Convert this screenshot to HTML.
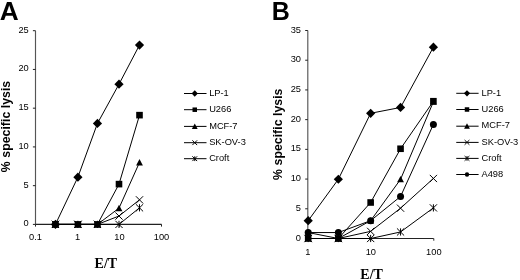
<!DOCTYPE html>
<html><head><meta charset="utf-8"><style>
html,body{margin:0;padding:0;background:#fff;width:520px;height:280px;overflow:hidden}
svg{display:block;will-change:transform}
text{fill:#000}
.s{font-family:"Liberation Sans",sans-serif;font-size:9.6px}
</style></head><body>
<svg width="520" height="280" viewBox="0 0 520 280">
<rect width="520" height="280" fill="#fff"/>
<text transform="translate(-0.3 20.3) scale(1.05 1)" font-family='"Liberation Sans", sans-serif' font-weight="bold" font-size="25">A</text>
<path d="M35.5 30.7V224.4" stroke="#555" stroke-width="1.15" fill="none"/>
<path d="M35.5 224.4H161.6" stroke="#222" stroke-width="1.1" fill="none"/>
<path d="M32.9 224.4H35.5" stroke="#222" stroke-width="1"/>
<text transform="translate(28.75 226.4) scale(0.97 1)" text-anchor="end" class="s">0</text>
<path d="M32.9 185.66H35.5" stroke="#222" stroke-width="1"/>
<text transform="translate(28.75 187.66) scale(0.97 1)" text-anchor="end" class="s">5</text>
<path d="M32.9 146.92H35.5" stroke="#222" stroke-width="1"/>
<text transform="translate(28.75 148.92) scale(0.97 1)" text-anchor="end" class="s">10</text>
<path d="M32.9 108.18H35.5" stroke="#222" stroke-width="1"/>
<text transform="translate(28.75 110.18) scale(0.97 1)" text-anchor="end" class="s">15</text>
<path d="M32.9 69.44H35.5" stroke="#222" stroke-width="1"/>
<text transform="translate(28.75 71.44) scale(0.97 1)" text-anchor="end" class="s">20</text>
<path d="M32.9 30.7H35.5" stroke="#222" stroke-width="1"/>
<text transform="translate(28.75 32.7) scale(0.97 1)" text-anchor="end" class="s">25</text>
<path d="M35.5 224.4V226.6" stroke="#222" stroke-width="1"/>
<text transform="translate(35.5 240.2) scale(0.97 1)" text-anchor="middle" class="s">0.1</text>
<path d="M77.5 224.4V226.6" stroke="#222" stroke-width="1"/>
<text transform="translate(77.5 240.2) scale(0.97 1)" text-anchor="middle" class="s">1</text>
<path d="M119.5 224.4V226.6" stroke="#222" stroke-width="1"/>
<text transform="translate(119.5 240.2) scale(0.97 1)" text-anchor="middle" class="s">10</text>
<path d="M161.5 224.4V226.6" stroke="#222" stroke-width="1"/>
<text transform="translate(161.5 240.2) scale(0.97 1)" text-anchor="middle" class="s">100</text>
<text transform="translate(9.9 126.45) rotate(-90)" text-anchor="middle" font-family='"Liberation Sans", sans-serif' font-weight="bold" font-size="12.3" letter-spacing="0.03">% specific lysis</text>
<text x="105.9" y="268" text-anchor="middle" font-family='"Liberation Serif", serif' font-weight="bold" font-size="14">E/T</text>
<polyline points="55.45,224.4 77.9,177.14 97.45,123.44 119,84.16 139.5,45.03" fill="none" stroke="#000" stroke-width="1"/>
<polyline points="55.45,224.4 77.9,224.4 97.45,224.4 119,184.11 139.5,115.15" fill="none" stroke="#000" stroke-width="1"/>
<polyline points="55.45,224.4 77.9,224.4 97.45,224.4 119,208.13 139.5,162.42" fill="none" stroke="#000" stroke-width="1"/>
<polyline points="55.45,224.4 77.9,224.4 97.45,224.4 119,216.03 139.5,199.84" fill="none" stroke="#000" stroke-width="1"/>
<polyline points="55.45,224.4 77.9,224.4 97.45,224.4 119,224.4 139.5,207.82" fill="none" stroke="#000" stroke-width="1"/>
<path d="M55.45 219.8L60.05 224.4L55.45 229L50.85 224.4Z" fill="#000"/>
<path d="M77.9 172.54L82.5 177.14L77.9 181.74L73.3 177.14Z" fill="#000"/>
<path d="M97.45 118.84L102.05 123.44L97.45 128.04L92.85 123.44Z" fill="#000"/>
<path d="M119 79.56L123.6 84.16L119 88.76L114.4 84.16Z" fill="#000"/>
<path d="M139.5 40.43L144.1 45.03L139.5 49.63L134.9 45.03Z" fill="#000"/>
<rect x="52.15" y="221.1" width="6.6" height="6.6" fill="#000"/>
<rect x="74.6" y="221.1" width="6.6" height="6.6" fill="#000"/>
<rect x="94.15" y="221.1" width="6.6" height="6.6" fill="#000"/>
<rect x="115.7" y="180.81" width="6.6" height="6.6" fill="#000"/>
<rect x="136.2" y="111.85" width="6.6" height="6.6" fill="#000"/>
<path d="M55.45 221L58.85 227.4L52.05 227.4Z" fill="#000"/>
<path d="M77.9 221L81.3 227.4L74.5 227.4Z" fill="#000"/>
<path d="M97.45 221L100.85 227.4L94.05 227.4Z" fill="#000"/>
<path d="M119 204.73L122.4 211.13L115.6 211.13Z" fill="#000"/>
<path d="M139.5 159.02L142.9 165.42L136.1 165.42Z" fill="#000"/>
<path d="M51.85 220.8L59.05 228M59.05 220.8L51.85 228" stroke="#000" stroke-width="1" fill="none"/>
<path d="M74.3 220.8L81.5 228M81.5 220.8L74.3 228" stroke="#000" stroke-width="1" fill="none"/>
<path d="M93.85 220.8L101.05 228M101.05 220.8L93.85 228" stroke="#000" stroke-width="1" fill="none"/>
<path d="M115.4 212.43L122.6 219.63M122.6 212.43L115.4 219.63" stroke="#000" stroke-width="1" fill="none"/>
<path d="M135.9 196.24L143.1 203.44M143.1 196.24L135.9 203.44" stroke="#000" stroke-width="1" fill="none"/>
<path d="M51.85 220.8L59.05 228M59.05 220.8L51.85 228M55.45 220.8L55.45 228" stroke="#000" stroke-width="1" fill="none"/>
<path d="M74.3 220.8L81.5 228M81.5 220.8L74.3 228M77.9 220.8L77.9 228" stroke="#000" stroke-width="1" fill="none"/>
<path d="M93.85 220.8L101.05 228M101.05 220.8L93.85 228M97.45 220.8L97.45 228" stroke="#000" stroke-width="1" fill="none"/>
<path d="M115.4 220.8L122.6 228M122.6 220.8L115.4 228M119 220.8L119 228" stroke="#000" stroke-width="1" fill="none"/>
<path d="M135.9 204.22L143.1 211.42M143.1 204.22L135.9 211.42M139.5 204.22L139.5 211.42" stroke="#000" stroke-width="1" fill="none"/>
<path d="M184 93.5H206.5" stroke="#000" stroke-width="1"/>
<path d="M194.75 90.37L197.88 93.5L194.75 96.63L191.62 93.5Z" fill="#000"/>
<text transform="translate(209.15 95.7) scale(0.97 1)" class="s">LP-1</text>
<path d="M184 109.7H206.5" stroke="#000" stroke-width="1"/>
<rect x="192.51" y="107.46" width="4.49" height="4.49" fill="#000"/>
<text transform="translate(209.15 111.9) scale(0.97 1)" class="s">U266</text>
<path d="M184 126.4H206.5" stroke="#000" stroke-width="1"/>
<path d="M194.75 123.48L197.67 128.98L191.83 128.98Z" fill="#000"/>
<text transform="translate(209.15 128.6) scale(0.97 1)" class="s">MCF-7</text>
<path d="M184 142.7H206.5" stroke="#000" stroke-width="1"/>
<path d="M192.37 140.32L197.13 145.08M197.13 140.32L192.37 145.08" stroke="#000" stroke-width="1" fill="none"/>
<text transform="translate(209.15 144.9) scale(0.97 1)" class="s">SK-OV-3</text>
<path d="M184 158.7H206.5" stroke="#000" stroke-width="1"/>
<path d="M192.37 156.32L197.13 161.08M197.13 156.32L192.37 161.08M194.75 156.32L194.75 161.08" stroke="#000" stroke-width="1" fill="none"/>
<text transform="translate(209.15 160.9) scale(0.97 1)" class="s">Croft</text>
<text transform="translate(271.7 20.3) scale(1 1)" font-family='"Liberation Sans", sans-serif' font-weight="bold" font-size="25">B</text>
<path d="M307.8 30.5V238.5" stroke="#555" stroke-width="1.15" fill="none"/>
<path d="M307.8 238.5H433.7" stroke="#222" stroke-width="1.1" fill="none"/>
<path d="M305.2 238.5H307.8" stroke="#222" stroke-width="1"/>
<text transform="translate(301 240.5) scale(0.97 1)" text-anchor="end" class="s">0</text>
<path d="M305.2 208.79H307.8" stroke="#222" stroke-width="1"/>
<text transform="translate(301 210.79) scale(0.97 1)" text-anchor="end" class="s">5</text>
<path d="M305.2 179.07H307.8" stroke="#222" stroke-width="1"/>
<text transform="translate(301 181.07) scale(0.97 1)" text-anchor="end" class="s">10</text>
<path d="M305.2 149.36H307.8" stroke="#222" stroke-width="1"/>
<text transform="translate(301 151.36) scale(0.97 1)" text-anchor="end" class="s">15</text>
<path d="M305.2 119.64H307.8" stroke="#222" stroke-width="1"/>
<text transform="translate(301 121.64) scale(0.97 1)" text-anchor="end" class="s">20</text>
<path d="M305.2 89.93H307.8" stroke="#222" stroke-width="1"/>
<text transform="translate(301 91.93) scale(0.97 1)" text-anchor="end" class="s">25</text>
<path d="M305.2 60.21H307.8" stroke="#222" stroke-width="1"/>
<text transform="translate(301 62.21) scale(0.97 1)" text-anchor="end" class="s">30</text>
<path d="M305.2 30.5H307.8" stroke="#222" stroke-width="1"/>
<text transform="translate(301 32.5) scale(0.97 1)" text-anchor="end" class="s">35</text>
<path d="M307.8 238.5V240.7" stroke="#222" stroke-width="1"/>
<text transform="translate(307.8 255.2) scale(0.97 1)" text-anchor="middle" class="s">1</text>
<path d="M370.8 238.5V240.7" stroke="#222" stroke-width="1"/>
<text transform="translate(370.8 255.2) scale(0.97 1)" text-anchor="middle" class="s">10</text>
<path d="M433.8 238.5V240.7" stroke="#222" stroke-width="1"/>
<text transform="translate(433.8 255.2) scale(0.97 1)" text-anchor="middle" class="s">100</text>
<text transform="translate(282.4 134.2) rotate(-90)" text-anchor="middle" font-family='"Liberation Sans", sans-serif' font-weight="bold" font-size="12.3" letter-spacing="0.03">% specific lysis</text>
<text x="371.6" y="279.4" text-anchor="middle" font-family='"Liberation Serif", serif' font-weight="bold" font-size="14">E/T</text>
<polyline points="308.2,220.67 338.35,179.25 370.65,113.28 400.55,107.46 433.4,47.2" fill="none" stroke="#000" stroke-width="1"/>
<polyline points="308.2,238.5 338.35,238.5 370.65,202.49 400.55,148.76 433.4,101.22" fill="none" stroke="#000" stroke-width="1"/>
<polyline points="308.2,232.56 338.35,238.5 370.65,220.67 400.55,179.31 433.4,101.81" fill="none" stroke="#000" stroke-width="1"/>
<polyline points="308.2,238.5 338.35,238.5 370.65,231.37 400.55,208.19 433.4,178.48" fill="none" stroke="#000" stroke-width="1"/>
<polyline points="308.2,238.5 338.35,238.5 370.65,238.5 400.55,231.96 433.4,207.89" fill="none" stroke="#000" stroke-width="1"/>
<polyline points="308.2,232.56 338.35,232.56 370.65,220.67 400.55,196.48 433.4,124.4" fill="none" stroke="#000" stroke-width="1"/>
<path d="M308.2 216.07L312.8 220.67L308.2 225.27L303.6 220.67Z" fill="#000"/>
<path d="M338.35 174.65L342.95 179.25L338.35 183.85L333.75 179.25Z" fill="#000"/>
<path d="M370.65 108.68L375.25 113.28L370.65 117.88L366.05 113.28Z" fill="#000"/>
<path d="M400.55 102.86L405.15 107.46L400.55 112.06L395.95 107.46Z" fill="#000"/>
<path d="M433.4 42.6L438 47.2L433.4 51.8L428.8 47.2Z" fill="#000"/>
<rect x="304.9" y="235.2" width="6.6" height="6.6" fill="#000"/>
<rect x="335.05" y="235.2" width="6.6" height="6.6" fill="#000"/>
<rect x="367.35" y="199.19" width="6.6" height="6.6" fill="#000"/>
<rect x="397.25" y="145.46" width="6.6" height="6.6" fill="#000"/>
<rect x="430.1" y="97.92" width="6.6" height="6.6" fill="#000"/>
<path d="M308.2 229.16L311.6 235.56L304.8 235.56Z" fill="#000"/>
<path d="M338.35 235.1L341.75 241.5L334.95 241.5Z" fill="#000"/>
<path d="M370.65 217.27L374.05 223.67L367.25 223.67Z" fill="#000"/>
<path d="M400.55 175.91L403.95 182.31L397.15 182.31Z" fill="#000"/>
<path d="M433.4 98.41L436.8 104.81L430 104.81Z" fill="#000"/>
<path d="M304.6 234.9L311.8 242.1M311.8 234.9L304.6 242.1" stroke="#000" stroke-width="1" fill="none"/>
<path d="M334.75 234.9L341.95 242.1M341.95 234.9L334.75 242.1" stroke="#000" stroke-width="1" fill="none"/>
<path d="M367.05 227.77L374.25 234.97M374.25 227.77L367.05 234.97" stroke="#000" stroke-width="1" fill="none"/>
<path d="M396.95 204.59L404.15 211.79M404.15 204.59L396.95 211.79" stroke="#000" stroke-width="1" fill="none"/>
<path d="M429.8 174.88L437 182.08M437 174.88L429.8 182.08" stroke="#000" stroke-width="1" fill="none"/>
<path d="M304.6 234.9L311.8 242.1M311.8 234.9L304.6 242.1M308.2 234.9L308.2 242.1" stroke="#000" stroke-width="1" fill="none"/>
<path d="M334.75 234.9L341.95 242.1M341.95 234.9L334.75 242.1M338.35 234.9L338.35 242.1" stroke="#000" stroke-width="1" fill="none"/>
<path d="M367.05 234.9L374.25 242.1M374.25 234.9L367.05 242.1M370.65 234.9L370.65 242.1" stroke="#000" stroke-width="1" fill="none"/>
<path d="M396.95 228.36L404.15 235.56M404.15 228.36L396.95 235.56M400.55 228.36L400.55 235.56" stroke="#000" stroke-width="1" fill="none"/>
<path d="M429.8 204.29L437 211.49M437 204.29L429.8 211.49M433.4 204.29L433.4 211.49" stroke="#000" stroke-width="1" fill="none"/>
<circle cx="308.2" cy="232.56" r="3.5" fill="#000"/>
<circle cx="338.35" cy="232.56" r="3.5" fill="#000"/>
<circle cx="370.65" cy="220.67" r="3.5" fill="#000"/>
<circle cx="400.55" cy="196.48" r="3.5" fill="#000"/>
<circle cx="433.4" cy="124.4" r="3.5" fill="#000"/>
<path d="M456.25 93.3H478.6" stroke="#000" stroke-width="1"/>
<path d="M467 90.17L470.13 93.3L467 96.43L463.87 93.3Z" fill="#000"/>
<text transform="translate(481.5 95.5) scale(0.97 1)" class="s">LP-1</text>
<path d="M456.25 109.5H478.6" stroke="#000" stroke-width="1"/>
<rect x="464.76" y="107.26" width="4.49" height="4.49" fill="#000"/>
<text transform="translate(481.5 111.7) scale(0.97 1)" class="s">U266</text>
<path d="M456.25 126.2H478.6" stroke="#000" stroke-width="1"/>
<path d="M467 123.28L469.92 128.78L464.08 128.78Z" fill="#000"/>
<text transform="translate(481.5 128.4) scale(0.97 1)" class="s">MCF-7</text>
<path d="M456.25 142.4H478.6" stroke="#000" stroke-width="1"/>
<path d="M464.62 140.02L469.38 144.78M469.38 140.02L464.62 144.78" stroke="#000" stroke-width="1" fill="none"/>
<text transform="translate(481.5 144.6) scale(0.97 1)" class="s">SK-OV-3</text>
<path d="M456.25 158.4H478.6" stroke="#000" stroke-width="1"/>
<path d="M464.62 156.02L469.38 160.78M469.38 156.02L464.62 160.78M467 156.02L467 160.78" stroke="#000" stroke-width="1" fill="none"/>
<text transform="translate(481.5 160.6) scale(0.97 1)" class="s">Croft</text>
<path d="M456.25 174.5H478.6" stroke="#000" stroke-width="1"/>
<circle cx="467" cy="174.5" r="2.17" fill="#000"/>
<text transform="translate(481.5 176.7) scale(0.97 1)" class="s">A498</text>
</svg>
</body></html>
